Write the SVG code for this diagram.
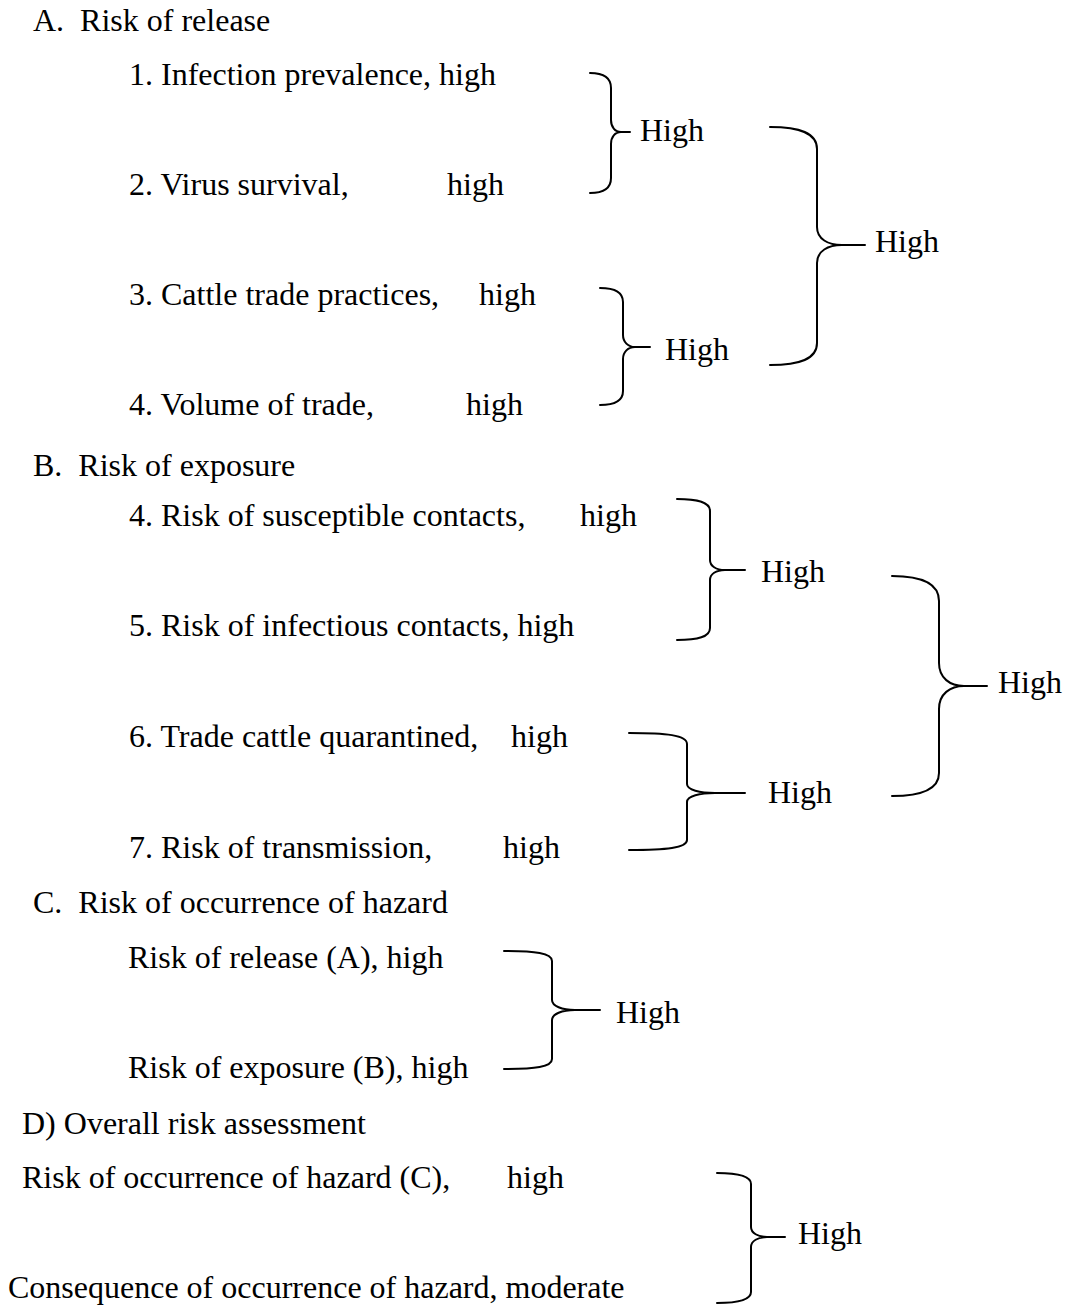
<svg xmlns="http://www.w3.org/2000/svg" width="1067" height="1308" viewBox="0 0 1067 1308">
<style>
text { font-family: "Liberation Serif", "Times New Roman", serif; font-size: 32px; fill: #000; }
.br { fill: none; stroke: #000; stroke-width: 2; stroke-linecap: round; stroke-linejoin: round; }
</style>
<rect width="1067" height="1308" fill="#fff"/>
<g id="sectionA">
  <text x="33" y="31" xml:space="preserve">A.  Risk of release</text>
  <g id="a1"><text x="129" y="85">1. Infection prevalence, high</text></g>
  <g id="a2"><text x="129" y="195">2. Virus survival,</text><text x="447" y="195">high</text></g>
  <g id="a3"><text x="129" y="305">3. Cattle trade practices,</text><text x="479" y="305">high</text></g>
  <g id="a4"><text x="129" y="415">4. Volume of trade,</text><text x="466" y="415">high</text></g>
  <g id="a12"><text x="640" y="141">High</text></g>
  <g id="a34"><text x="665" y="360">High</text></g>
  <g id="aAll"><text x="875" y="252">High</text></g>
</g>
<g id="sectionB">
  <text x="33" y="476" xml:space="preserve">B.  Risk of exposure</text>
  <g id="b4"><text x="129" y="526">4. Risk of susceptible contacts,</text><text x="580" y="526">high</text></g>
  <g id="b5"><text x="129" y="636">5. Risk of infectious contacts, high</text></g>
  <g id="b6"><text x="129" y="747">6. Trade cattle quarantined,</text><text x="511" y="747">high</text></g>
  <g id="b7"><text x="129" y="858">7. Risk of transmission,</text><text x="503" y="858">high</text></g>
  <g id="b45"><text x="761" y="582">High</text></g>
  <g id="b67"><text x="768" y="803">High</text></g>
  <g id="bAll"><text x="998" y="693">High</text></g>
</g>
<g id="sectionC">
  <text x="33" y="913" xml:space="preserve">C.  Risk of occurrence of hazard</text>
  <g id="cA"><text x="128" y="968">Risk of release (A), high</text></g>
  <g id="cB"><text x="128" y="1078">Risk of exposure (B), high</text></g>
  <g id="cAll"><text x="616" y="1023">High</text></g>
</g>
<g id="sectionD">
  <text x="22" y="1134">D) Overall risk assessment</text>
  <g id="dC"><text x="22" y="1188">Risk of occurrence of hazard (C),</text><text x="507" y="1188">high</text></g>
  <g id="dCons"><text x="8" y="1298">Consequence of occurrence of hazard, moderate</text></g>
  <g id="dAll"><text x="798" y="1244">High</text></g>
</g>
<g id="connectors">
  <path class="br" d="M590 73 C602 73 611 77 611 88 L611 120 C611 127 615 132 621 132 L630 132 M621 132 C615 132 611 137 611 144 L611 178 C611 189 602 193 590 193"/>
  <path class="br" d="M600 288 C614 288 623 292 623 302 L623 335 C623 342 628 347 635 347 L650 347 M635 347 C628 347 623 352 623 359 L623 391 C623 401 614 405 600 405"/>
  <path class="br" d="M770 127 C800 127 817 133 817 149 L817 227 C817 239 828 245 842 245 L865 245 M842 245 C828 245 817 251 817 263 L817 343 C817 359 800 365 770 365"/>
  <path class="br" d="M677 499 C698 499 710 502 710 511 L710 560 C710 566 716 570 725 570 L745 570 M725 570 C716 570 710 574 710 580 L710 628 C710 637 698 640 677 640"/>
  <path class="br" d="M629 733 C666 733 687 735 687 744 L687 784 C687 790 700 793 715 793 L745 793 M715 793 C700 793 687 796 687 802 L687 840 C687 848 666 850 629 850"/>
  <path class="br" d="M892 576 C922 576 939 584 939 601 L939 663 C939 678 950 686 964 686 L987 686 M964 686 C950 686 939 694 939 709 L939 773 C939 789 922 796 892 796"/>
  <path class="br" d="M504 951 C535 951 552 953 552 961 L552 1000 C552 1006 562 1010 575 1010 L600 1010 M575 1010 C562 1010 552 1014 552 1020 L552 1059 C552 1067 535 1069 504 1069"/>
  <path class="br" d="M717 1173 C739 1173 751 1176 751 1184 L751 1227 C751 1233 758 1237 767 1237 L785 1237 M767 1237 C758 1237 751 1241 751 1247 L751 1292 C751 1300 739 1303 717 1303"/>
</g>
</svg>
